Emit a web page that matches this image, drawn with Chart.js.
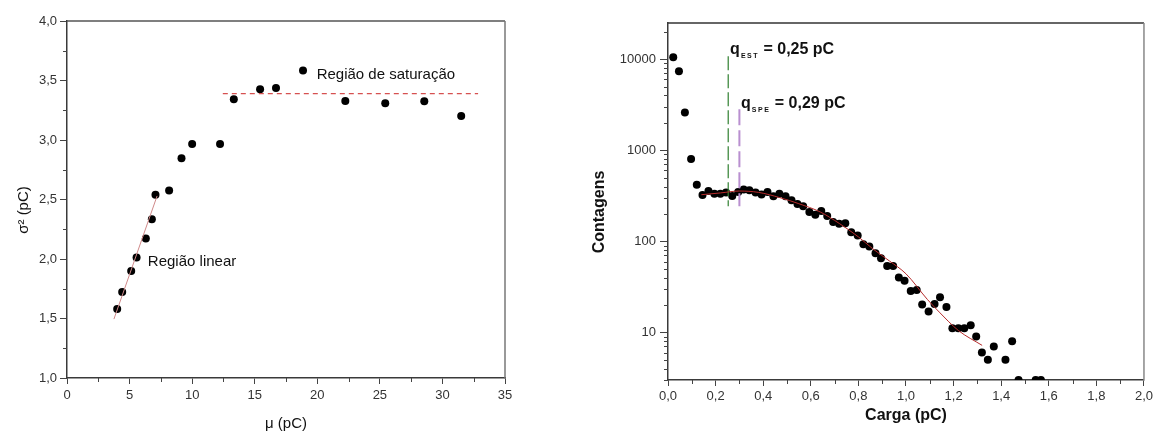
<!DOCTYPE html>
<html><head><meta charset="utf-8">
<script src="https://cdn.jsdelivr.net/npm/chart.js@4.4.1/dist/chart.umd.min.js"></script>
<style>
html,body{margin:0;padding:0;background:#fff;}
#wrap{position:relative;width:1156px;height:432px;overflow:hidden;}
#left{position:absolute;left:0;top:0;}
#right{position:absolute;left:580px;top:0;}
</style></head><body>
<div id="wrap">
<canvas id="left" width="560" height="432"></canvas>
<canvas id="right" width="576" height="432"></canvas>
</div>
<script>
// ---------- LEFT CHART DATA ----------
const muValues     = [4.01, 4.41, 5.13, 5.56, 6.30, 6.78, 7.07, 8.16, 9.15, 10.0, 12.23, 13.33, 15.43, 16.70, 18.86, 22.24, 25.43, 28.55, 31.50];
const sigma2Values = [1.579, 1.722, 1.900, 2.013, 2.172, 2.335, 2.540, 2.575, 2.847, 2.967, 2.967, 3.342, 3.426, 3.437, 3.583, 3.328, 3.309, 3.325, 3.202];
const linearFitX = [3.75, 7.2];
const linearFitY = [1.495, 2.53];
const saturationX = [12.45, 32.85];
const saturationY = [3.39, 3.39];
const leftXTicks = [0, 5, 10, 15, 20, 25, 30, 35];
const leftXTickLabels = ['0', '5', '10', '15', '20', '25', '30', '35'];
const leftXMinor = [2.5, 7.5, 12.5, 17.5, 22.5, 27.5, 32.5];
const leftYTicks = [1.0, 1.5, 2.0, 2.5, 3.0, 3.5, 4.0];
const leftYTickLabels = ['1,0', '1,5', '2,0', '2,5', '3,0', '3,5', '4,0'];
const leftYMinor = [1.25, 1.75, 2.25, 2.75, 3.25, 3.75];

// ---------- RIGHT CHART DATA ----------
const cargaValues = [0.022, 0.046, 0.071, 0.097, 0.121, 0.145, 0.170, 0.195, 0.220, 0.244,
  0.270, 0.295, 0.318, 0.342, 0.368, 0.393, 0.418, 0.443, 0.468, 0.494,
  0.519, 0.544, 0.568, 0.594, 0.619, 0.644, 0.669, 0.694, 0.719, 0.745,
  0.770, 0.797, 0.821, 0.846, 0.872, 0.895, 0.921, 0.946, 0.970, 0.994,
  1.020, 1.045, 1.068, 1.095, 1.120, 1.143, 1.170, 1.195, 1.220, 1.245,
  1.272, 1.295, 1.319, 1.344, 1.369, 1.418, 1.446, 1.473, 1.545, 1.567];
const contagensValues = [10500, 7400, 2600, 800, 418, 323, 358, 334, 334, 343,
  315, 348, 370, 363, 343, 326, 348, 313, 334, 313,
  282, 257, 243, 210, 196, 215, 190, 163, 156, 158,
  126, 116, 93, 88, 74, 65, 53.5, 53.5, 40, 37,
  28.5, 29.3, 20.3, 17, 20.5, 24.3, 19, 11.1, 11.1, 11.1,
  12, 9, 6, 5, 7, 5, 8, 3, 3, 3];
const fitCargaX = [0.14, 0.22, 0.30, 0.38, 0.47, 0.55, 0.64, 0.72, 0.80, 0.86, 0.93, 1.00, 1.09, 1.14, 1.22, 1.32];
const fitContagensY = [325, 340, 357, 345, 302, 259, 210, 157, 112, 83, 61, 44, 23, 16.7, 10.5, 7.2];
const qEstX = [0.253, 0.253];
const qEstY = [10800, 243];
const qSpeX = [0.30, 0.30];
const qSpeY = [2820, 243];
const rightXTicks = [0, 0.2, 0.4, 0.6, 0.8, 1.0, 1.2, 1.4, 1.6, 1.8, 2.0];
const rightXTickLabels = ['0,0', '0,2', '0,4', '0,6', '0,8', '1,0', '1,2', '1,4', '1,6', '1,8', '2,0'];
const rightXMinor = [0.1, 0.3, 0.5, 0.7, 0.9, 1.1, 1.3, 1.5, 1.7, 1.9];
const rightYTicks = [10, 100, 1000, 10000];
const rightYTickLabels = ['10', '100', '1000', '10000'];
const rightYMinor = [3, 4, 5, 6, 7, 8, 9, 20, 30, 40, 50, 60, 70, 80, 90,
  200, 300, 400, 500, 600, 700, 800, 900, 2000, 3000, 4000, 5000, 6000, 7000, 8000, 9000, 20000];

// ---------- helpers ----------
const FONT = "'Liberation Sans', Arial, sans-serif";
const pts = (xs, ys) => xs.map((x, i) => ({x: x, y: ys[i]}));

function decorPlugin(cfg) {
  return {
    id: 'decor',
    afterDraw(chart) {
      const ctx = chart.ctx, a = chart.chartArea, sx = chart.scales.x, sy = chart.scales.y;
      ctx.save();
      // frame top & right
      ctx.strokeStyle = cfg.frameTopColor; ctx.lineWidth = 1.5;
      ctx.beginPath(); ctx.moveTo(a.left, a.top); ctx.lineTo(a.right, a.top); ctx.stroke();
      ctx.strokeStyle = cfg.frameRightColor;
      ctx.beginPath(); ctx.moveTo(a.right, a.top); ctx.lineTo(a.right, a.bottom + 0.75); ctx.stroke();
      // minor ticks
      ctx.strokeStyle = '#444'; ctx.lineWidth = 1;
      cfg.xMinor.forEach(v => {
        const p = Math.round(sx.getPixelForValue(v)) + 0.5;
        ctx.beginPath(); ctx.moveTo(p, a.bottom); ctx.lineTo(p, a.bottom + cfg.xMinorLen); ctx.stroke();
      });
      cfg.yMinor.forEach(v => {
        const p = Math.round(sy.getPixelForValue(v)) + 0.5;
        ctx.beginPath(); ctx.moveTo(a.left, p); ctx.lineTo(a.left - cfg.yMinorLen, p); ctx.stroke();
      });
      // axis titles
      ctx.fillStyle = '#111';
      ctx.font = cfg.titleFont;
      ctx.textAlign = 'center'; ctx.textBaseline = 'middle';
      ctx.fillText(cfg.xTitle, (a.left + a.right) / 2, cfg.xTitleY);
      ctx.save();
      ctx.translate(cfg.yTitleX, cfg.yTitleY);
      ctx.rotate(-Math.PI / 2);
      ctx.fillText(cfg.yTitle, 0, 0);
      ctx.restore();
      // annotations
      cfg.texts.forEach(t => {
        let x = sx.getPixelForValue(t.x);
        const y = sy.getPixelForValue(t.y);
        ctx.textAlign = 'left'; ctx.textBaseline = 'alphabetic';
        t.parts.forEach(p => {
          ctx.font = p.font;
          ctx.letterSpacing = p.ls || '0px';
          ctx.fillText(p.text, x, y + (p.dy || 0));
          x += ctx.measureText(p.text).width + (p.gap || 0);
        });
        ctx.letterSpacing = '0px';
      });
      ctx.restore();
    }
  };
}

// ---------- LEFT CHART ----------
new Chart(document.getElementById('left'), {
  type: 'scatter',
  data: {
    datasets: [
      {data: pts(linearFitX, linearFitY), showLine: true, borderColor: '#d08a8a', borderWidth: 1, pointRadius: 0},
      {data: pts(saturationX, saturationY), showLine: true, borderColor: '#d65050', borderWidth: 1.3, borderDash: [5, 4], pointRadius: 0},
      {data: pts(muValues, sigma2Values), pointRadius: 4, pointBackgroundColor: '#000', pointBorderColor: '#000', pointBorderWidth: 0, showLine: false}
    ]
  },
  options: {
    responsive: false, animation: false, events: [],
    layout: {padding: {left: 0, top: 21, right: 55, bottom: 0}},
    plugins: {legend: {display: false}, tooltip: {enabled: false}},
    scales: {
      x: {
        type: 'linear', min: 0, max: 35,
        afterFit(s) { s.height = 54; },
        afterBuildTicks(s) { s.ticks = leftXTicks.map(v => ({value: v})); },
        ticks: {callback: (v, i) => leftXTickLabels[i], font: {family: FONT, size: 13}, color: '#333', padding: 4, maxRotation: 0, autoSkip: false},
        grid: {display: true, drawOnChartArea: false, drawTicks: true, tickLength: 6, tickColor: '#444', tickWidth: 1},
        border: {display: true, color: '#3a3a3a', width: 1.5}
      },
      y: {
        type: 'linear', min: 1, max: 4,
        afterFit(s) { s.width = 67; },
        afterBuildTicks(s) { s.ticks = leftYTicks.map(v => ({value: v})); },
        ticks: {callback: (v, i) => leftYTickLabels[i], font: {family: FONT, size: 13}, color: '#333', padding: 3, autoSkip: false},
        grid: {display: true, drawOnChartArea: false, drawTicks: true, tickLength: 7, tickColor: '#444', tickWidth: 1},
        border: {display: true, color: '#3a3a3a', width: 1.5}
      }
    }
  },
  plugins: [decorPlugin({
    frameTopColor: '#555', frameRightColor: '#777',
    xMinor: leftXMinor, yMinor: leftYMinor, xMinorLen: 4, yMinorLen: 4,
    titleFont: '15px ' + FONT,
    xTitle: 'μ (pC)', xTitleY: 424,
    yTitle: 'σ² (pC)', yTitleX: 24, yTitleY: 210,
    texts: [
      {x: 19.95, y: 3.513, parts: [{text: 'Região de saturação', font: '15px ' + FONT}]},
      {x: 6.46, y: 1.943, parts: [{text: 'Região linear', font: '15px ' + FONT}]}
    ]
  })]
});

// ---------- RIGHT CHART ----------
new Chart(document.getElementById('right'), {
  type: 'scatter',
  data: {
    datasets: [
      {data: pts(fitCargaX, fitContagensY), showLine: true, borderColor: '#b52a2a', borderWidth: 1, pointRadius: 0, cubicInterpolationMode: 'monotone'},
      {data: pts(qEstX, qEstY), showLine: true, borderColor: '#2f7f2f', borderWidth: 1.2, borderDash: [14, 4], pointRadius: 0},
      {data: pts(qSpeX, qSpeY), showLine: true, borderColor: '#b98fd0', borderWidth: 2, borderDash: [16, 5], pointRadius: 0},
      {data: pts(cargaValues, contagensValues), pointRadius: 4, pointBackgroundColor: '#000', pointBorderColor: '#000', pointBorderWidth: 0, showLine: false}
    ]
  },
  options: {
    responsive: false, animation: false, events: [],
    layout: {padding: {left: 0, top: 23, right: 10, bottom: 0}},
    plugins: {legend: {display: false}, tooltip: {enabled: false}},
    scales: {
      x: {
        type: 'linear', min: 0, max: 2,
        afterFit(s) { s.height = 52; },
        afterBuildTicks(s) { s.ticks = rightXTicks.map(v => ({value: v})); },
        ticks: {callback: (v, i) => rightXTickLabels[i], font: {family: FONT, size: 13}, color: '#333', padding: 3, maxRotation: 0, autoSkip: false},
        grid: {display: true, drawOnChartArea: false, drawTicks: true, tickLength: 6, tickColor: '#444', tickWidth: 1},
        border: {display: true, color: '#3a3a3a', width: 1.5}
      },
      y: {
        type: 'logarithmic', min: 3, max: 25000,
        afterFit(s) { s.width = 88; },
        afterBuildTicks(s) { s.ticks = rightYTicks.map(v => ({value: v})); },
        ticks: {callback: (v, i) => rightYTickLabels[i], font: {family: FONT, size: 13}, color: '#333', padding: 4, autoSkip: false},
        grid: {display: true, drawOnChartArea: false, drawTicks: true, tickLength: 8, tickColor: '#444', tickWidth: 1},
        border: {display: true, color: '#3a3a3a', width: 1.5}
      }
    }
  },
  plugins: [decorPlugin({
    frameTopColor: '#333', frameRightColor: '#888',
    xMinor: rightXMinor, yMinor: rightYMinor, xMinorLen: 4, yMinorLen: 4,
    titleFont: 'bold 16px ' + FONT,
    xTitle: 'Carga (pC)', xTitleY: 416,
    yTitle: 'Contagens', yTitleX: 20, yTitleY: 212,
    texts: [
      {x: 0.261, y: 11500, parts: [
        {text: 'q', font: 'bold 16px ' + FONT, gap: 1},
        {text: 'EST', font: 'bold 7px ' + FONT, dy: 4, ls: '1.5px'},
        {text: ' = 0,25 pC', font: 'bold 16px ' + FONT}
      ]},
      {x: 0.307, y: 2890, parts: [
        {text: 'q', font: 'bold 16px ' + FONT, gap: 1},
        {text: 'SPE', font: 'bold 7px ' + FONT, dy: 4, ls: '1.5px'},
        {text: ' = 0,29 pC', font: 'bold 16px ' + FONT}
      ]}
    ]
  })]
});
</script>
</body></html>
